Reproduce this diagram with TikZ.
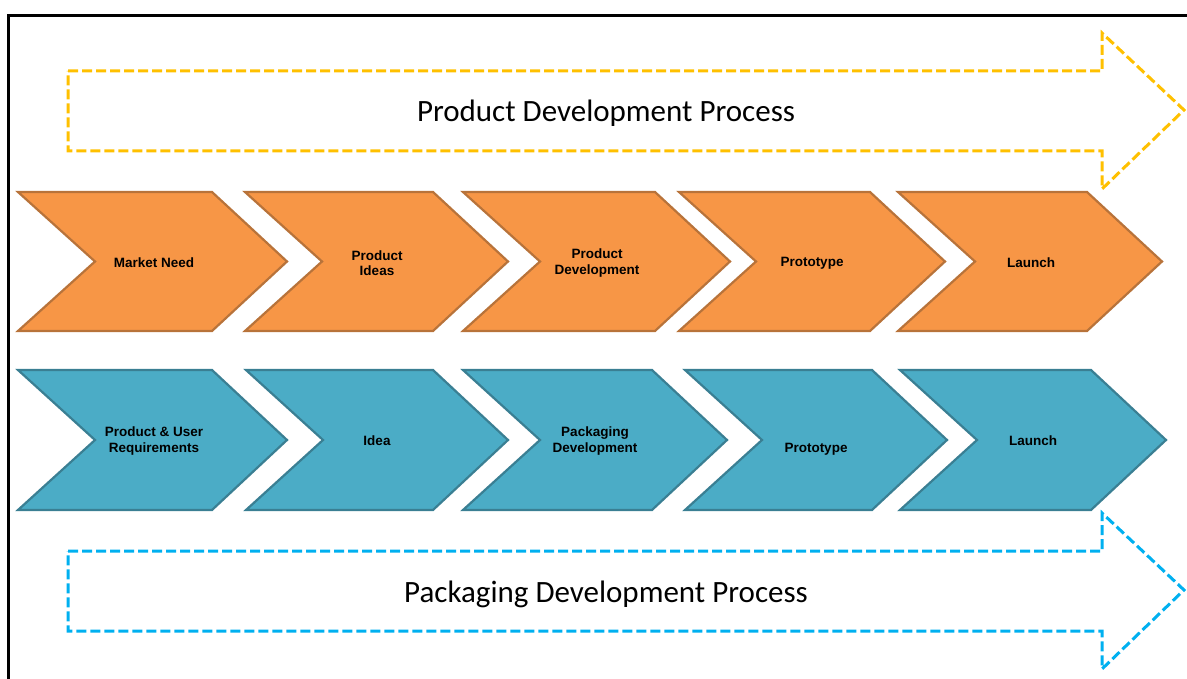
\documentclass[tikz,border=0pt]{standalone}
\usepackage{fontspec}
\setmainfont{Liberation Sans}
\newfontfamily\titlefont{Carlito}
\definecolor{orangefill}{HTML}{F79646}
\definecolor{orangeedge}{HTML}{B8733A}
\definecolor{bluefill}{HTML}{4BACC6}
\definecolor{blueedge}{HTML}{3A7F93}
\definecolor{dashyel}{HTML}{FFC000}
\definecolor{dashblue}{HTML}{00B0F0}
\newcommand\mychev[5]{%
  \path[#1] (#2,#4) -- ({#3-75},#4) -- (#3,{(#4+#5)/2}) -- ({#3-75},#5) -- (#2,#5) -- ({#2+77},{(#4+#5)/2}) -- cycle;}
\begin{document}
\begin{tikzpicture}[x=1pt,y=-1pt,
  orangechev/.style={fill=orangefill, draw=orangeedge, line width=2.2pt, line join=miter},
  bluechev/.style={fill=bluefill, draw=blueedge, line width=2.2pt, line join=miter},
  dashyellow/.style={draw=dashyel, line width=3pt, dash pattern=on 10pt off 4pt},
  dashbluestyle/.style={draw=dashblue, line width=3pt, dash pattern=on 10pt off 4pt},
  lbl/.style={font=\bfseries\fontsize{13.5}{15.5}\selectfont, align=center, text=black, inner sep=0pt},
  titlelbl/.style={font=\titlefont\fontsize{31}{36}\selectfont, inner sep=0pt}]
\useasboundingbox (0,0) rectangle (1187,679);
% frame
\draw[line width=3pt] (8.5,679) -- (8.5,15.5) -- (1187,15.5);
% dashed process arrows
\path[dashyellow] (68,71) -- (1102,71) -- (1102,33) -- (1184,110) -- (1102,189) -- (1102,151) -- (68,151) -- cycle;
\path[dashbluestyle] (68,551) -- (1102,551) -- (1102,513) -- (1184,590) -- (1102,669) -- (1102,631) -- (68,631) -- cycle;
\node[titlelbl] (ptitle) at (606,113) {Product Development Process};
\node[titlelbl] (ktitle) at (606,594) {Packaging Development Process};
% row 1
\mychev{orangechev}{18}{287}{192}{331}
\mychev{orangechev}{245}{508}{192}{331}
\mychev{orangechev}{463}{730}{192}{331}
\mychev{orangechev}{679}{945}{192}{331}
\mychev{orangechev}{898}{1162}{192}{331}
\node[lbl] (o1) at (154,263) {Market Need};
\node[lbl] (o2) at (377,263) {Product\\Ideas};
\node[lbl] (o3) at (597,263) {Product\\Development};
\node[lbl] (o4) at (812,263) {Prototype};
\node[lbl] (o5) at (1031,263) {Launch};
% row 2
\mychev{bluechev}{18}{287}{370}{510}
\mychev{bluechev}{246}{508}{370}{510}
\mychev{bluechev}{463}{727}{370}{510}
\mychev{bluechev}{685}{947}{370}{510}
\mychev{bluechev}{900}{1166}{370}{510}
\node[lbl] (b1) at (154,441) {Product \& User\\Requirements};
\node[lbl] (b2) at (377,441) {Idea};
\node[lbl] (b3) at (595,441) {Packaging\\Development};
\node[lbl] (b4) at (816,449) {Prototype};
\node[lbl] (b5) at (1033,441) {Launch};
\end{tikzpicture}
\end{document}
